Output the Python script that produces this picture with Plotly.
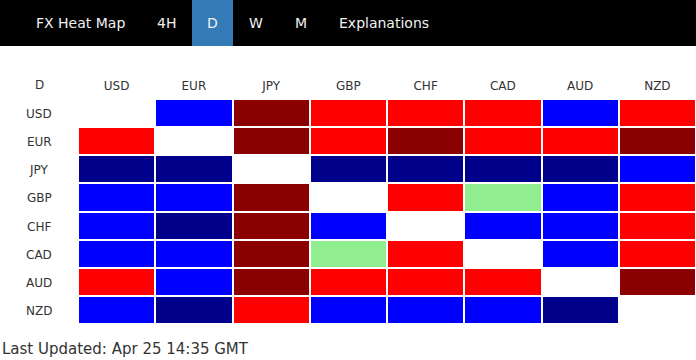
import plotly.graph_objects as go

currencies = ["USD", "EUR", "JPY", "GBP", "CHF", "CAD", "AUD", "NZD"]
tabs = ["FX Heat Map", "4H", "D", "W", "M", "Explanations"]
active_tab = "D"
updated_text = "Last Updated: Apr 25 14:35 GMT"

# level: -2 strong weak (navy), -1 weak (blue), 0 neutral (green), 1 strong (red), 2 very strong (dark red)
usd = [None, -1, 2, 1, 1, 1, -1, 1]
eur = [1, None, 2, 1, 2, 1, 1, 2]
jpy = [-2, -2, None, -2, -2, -2, -2, -1]
gbp = [-1, -1, 2, None, 1, 0, -1, 1]
chf = [-1, -2, 2, -1, None, -1, -1, 1]
cad = [-1, -1, 2, 0, 1, None, -1, 1]
aud = [1, -1, 2, 1, 1, 1, None, 2]
nzd = [-1, -2, 1, -1, -1, -1, -2, None]
z = [usd, eur, jpy, gbp, chf, cad, aud, nzd]

navy, blue, green, red, dred = "#00008B", "#0000FF", "#90EE90", "#FF0000", "#8B0000"
colorscale = [[0, navy], [0.2, navy], [0.2, blue], [0.4, blue], [0.4, green],
              [0.6, green], [0.6, red], [0.8, red], [0.8, dred], [1, dred]]

W, H = 696, 360
L, R, T, B = 78, 0, 99, 36
pw = W - L - R
ph = H - T - B

fig = go.Figure(go.Heatmap(
    z=z, x=currencies, y=currencies, zmin=-2, zmax=2,
    colorscale=colorscale, showscale=False, xgap=2, ygap=2, hoverongaps=False,
))

font = "DejaVu Sans, Verdana, sans-serif"
fig.update_layout(
    width=W, height=H, margin=dict(l=L, r=R, t=T, b=B),
    paper_bgcolor="white", plot_bgcolor="white",
    font=dict(family=font, size=12, color="#333"),
    xaxis=dict(side="top", showgrid=False, zeroline=False, ticks="", ticklabelstandoff=6,
               tickfont=dict(size=12, color="#333"), fixedrange=True),
    yaxis=dict(autorange="reversed", showgrid=False, zeroline=False, showticklabels=False,
               ticks="", fixedrange=True),
)

def px2x(px):
    return (px - L) / pw

def py2y(py):
    return 1 + (T - py) / ph

shapes = [
    dict(type="rect", xref="paper", yref="paper", x0=px2x(0), x1=px2x(W),
         y0=py2y(46), y1=py2y(0), fillcolor="black", line_width=0, layer="above"),
]
tab_centers = [80, 166, 212.5, 256, 301, 384]
for name, cx in zip(tabs, tab_centers):
    if name == active_tab:
        shapes.append(dict(type="rect", xref="paper", yref="paper", x0=px2x(192), x1=px2x(233),
                           y0=py2y(46), y1=py2y(0),
                           fillcolor="#337AB7", line_width=0, layer="above"))
fig.update_layout(shapes=shapes)

ann = []
for name, cx in zip(tabs, tab_centers):
    ann.append(dict(text=name, xref="paper", yref="paper", x=px2x(cx), y=py2y(23.5),
                    xanchor="center", yanchor="middle", showarrow=False,
                    font=dict(size=14, color="#f2f2f2", family=font)))
ann.append(dict(text="D", xref="paper", yref="paper", x=px2x(39), y=py2y(85.5),
                xanchor="center", yanchor="middle", showarrow=False, font=dict(size=12, color="#333")))
for c in currencies:
    ann.append(dict(text=c, xref="paper", yref="y", x=px2x(39), y=c, yshift=-1,
                    xanchor="center", yanchor="middle", showarrow=False, font=dict(size=12, color="#333")))
ann.append(dict(text=updated_text, xref="paper", yref="paper", x=px2x(0), y=py2y(349),
                xanchor="left", yanchor="middle", showarrow=False, font=dict(size=15, color="#333")))
fig.update_layout(annotations=ann)

fig.write_html("out.html", config=dict(displayModeBar=False),
               post_script="document.body.style.margin='0';document.body.style.overflow='hidden';")
